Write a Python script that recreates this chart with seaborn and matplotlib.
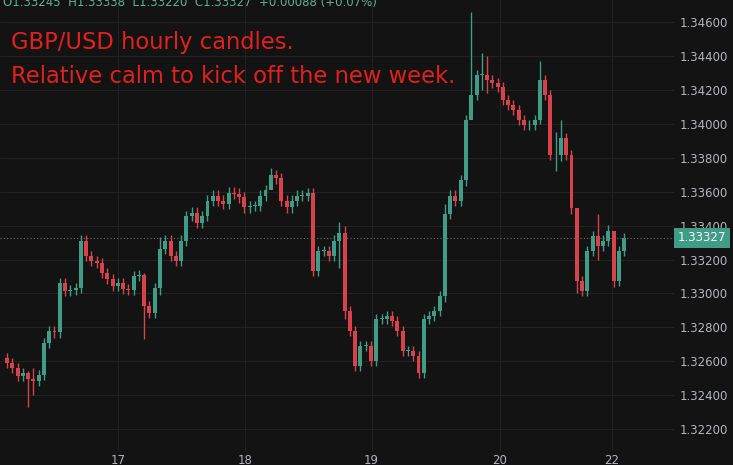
import numpy as np
import pandas as pd
import matplotlib.pyplot as plt
import seaborn as sns

# hourly closes, open of each candle = previous close
first_open = 1.32620
closes = [
    1.32590, 1.32560, 1.32514, 1.32530, 1.32496, 1.32484, 1.32520, 1.32709, 1.32780, 1.32770,
    1.33063, 1.33016, 1.33020, 1.33034, 1.33312, 1.33223, 1.33190, 1.33182, 1.33122, 1.33087,
    1.33046, 1.33060, 1.33028, 1.33020, 1.33105, 1.33111, 1.32927, 1.32886, 1.33030, 1.33264,
    1.33312, 1.33223, 1.33190, 1.33312, 1.33459, 1.33477, 1.33418, 1.33459, 1.33548, 1.33577,
    1.33548, 1.33530, 1.33595, 1.33589, 1.33566, 1.33507, 1.33518, 1.33518, 1.33577, 1.33607,
    1.33696, 1.33678, 1.33548, 1.33507, 1.33548, 1.33577, 1.33577, 1.33590, 1.33134, 1.33252,
    1.33252, 1.33223, 1.33312, 1.33359, 1.32898, 1.32780, 1.32573, 1.32691, 1.32691, 1.32602,
    1.32851, 1.32851, 1.32868, 1.32839, 1.32780, 1.32661, 1.32661, 1.32632, 1.32531, 1.32851,
    1.32868, 1.32898, 1.32987, 1.33471, 1.33577, 1.33548, 1.33666, 1.34021, 1.34169, 1.34287,
    1.34287, 1.34257, 1.34239, 1.34216, 1.34139, 1.34109, 1.34080, 1.34021, 1.33991, 1.33991,
    1.34021, 1.34257, 1.34169, 1.33814, 1.33814, 1.33914, 1.33814, 1.33501, 1.33075, 1.33016,
    1.33252, 1.33341, 1.33282, 1.33312, 1.33371, 1.33075, 1.33252, 1.33327,
]
# notable wick extremes: index -> (high, low)
extremes = {
    4: (1.32540, 1.32330), 5: (1.32560, 1.32400), 26: (1.33120, 1.32730),
    29: (1.33330, 1.32990), 50: (1.33740, 1.33620), 63: (1.33420, 1.33150),
    64: (1.33400, 1.32850), 83: (1.33530, 1.32950), 88: (1.34660, 1.34100),
    90: (1.34420, 1.34200), 91: (1.34400, 1.34180), 101: (1.34370, 1.34000),
    104: (1.33950, 1.33720), 105: (1.34020, 1.33780), 108: (1.33460, 1.33000),
    112: (1.33470, 1.33200), 115: (1.33170, 1.33040),
}
wick = 0.00030
date_labels = ['17', '18', '19', '20', '22']
date_pos = [21.0, 45.1, 69.1, 93.4, 114.6]
price_ticks = [1.322, 1.324, 1.326, 1.328, 1.330, 1.332, 1.334, 1.336, 1.338, 1.340,
               1.342, 1.344, 1.346]
last_price = 1.33327

bg = '#131313'
up_col = '#3f9c86'
down_col = '#d8434b'

opens = [first_open] + closes[:-1]
df = pd.DataFrame({'open': opens, 'close': closes})
df['high'] = df[['open', 'close']].max(axis=1) + wick
df['low'] = df[['open', 'close']].min(axis=1) - wick
for i, (h, l) in extremes.items():
    df.loc[i, 'high'] = h
    df.loc[i, 'low'] = l
df['up'] = df['close'] >= df['open']

sns.set_style('dark')
fig = plt.figure(figsize=(7.33, 4.65), dpi=100, facecolor=bg)
ax = fig.add_axes([0, 0.03, 0.92, 0.97])
ax.set_facecolor(bg)

x = np.arange(len(df))
colors = np.where(df['up'], up_col, down_col)
ax.vlines(x, df['low'], df['high'], colors=colors, linewidth=1)
body_lo = df[['open', 'close']].min(axis=1)
body_h = (df['close'] - df['open']).abs().clip(lower=0.00004)
ax.bar(x, body_h, bottom=body_lo, width=0.75, color=colors, linewidth=0)

ax.set_xlim(-1.33, 126.5)
ax.set_ylim(1.32071, 1.3473)
ax.yaxis.tick_right()
ax.set_yticks(price_ticks)
ax.set_yticklabels([f'{p:.5f}' for p in price_ticks])
ax.set_xticks(date_pos)
ax.set_xticklabels(date_labels)
ax.tick_params(colors='#b2b5be', labelsize=8.5, length=0, pad=4)
ax.tick_params(axis='x', pad=2)
ax.grid(True, color='#222222', linewidth=0.8)
for s in ax.spines.values():
    s.set_visible(False)

# last price line and tag
ax.axhline(last_price, color='#6a6a6a', linestyle=(0, (1, 2)), linewidth=0.8)
ax.text(1.005, last_price, f'{last_price:.5f}', transform=ax.get_yaxis_transform(),
        ha='left', va='center', fontsize=8.5, color='white', zorder=5,
        bbox=dict(boxstyle='square,pad=0.3', fc='#3f9c86', ec='none'))

ax.text(0.005, 0.995, 'O1.33245  H1.33338  L1.33220  C1.33327  +0.00088 (+0.07%)',
        transform=ax.transAxes, ha='left', va='center', fontsize=8.5, color='#5fae98')
ax.text(0.017, 0.905, 'GBP/USD hourly candles.', transform=ax.transAxes,
        fontsize=16.3, color='#e3201b', va='center')
ax.text(0.017, 0.83, 'Relative calm to kick off the new week.', transform=ax.transAxes,
        fontsize=16.3, color='#e3201b', va='center')

fig.savefig('out.png', dpi=100, facecolor=bg)
